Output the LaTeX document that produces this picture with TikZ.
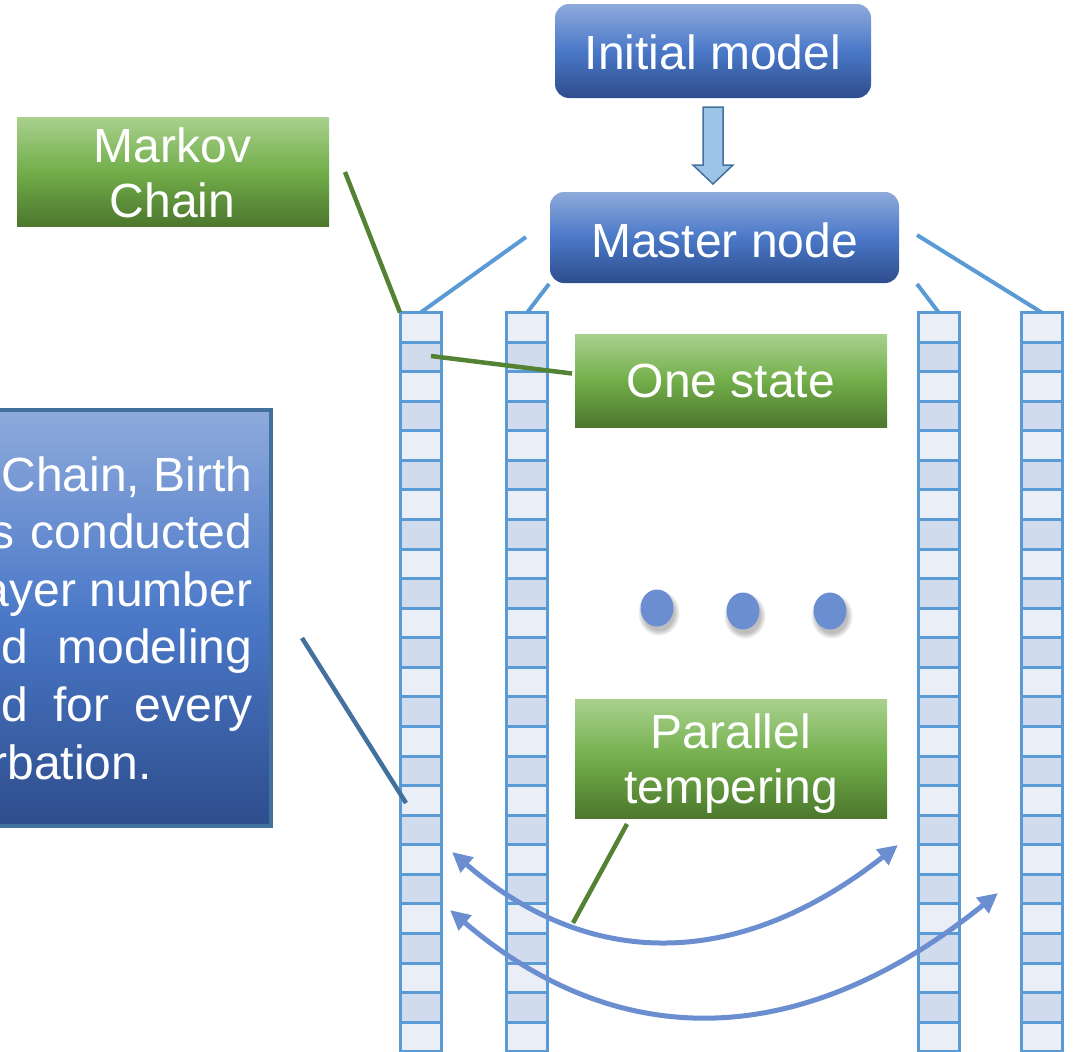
\documentclass[tikz,border=0pt]{standalone}
\usepackage{fontspec}
\setmainfont{Liberation Sans}
\usetikzlibrary{arrows.meta,calc}
\definecolor{cellline}{HTML}{5B9BD5}
\definecolor{celllight}{HTML}{E9EEF7}
\definecolor{celldark}{HTML}{D0DCEE}
\definecolor{bluetop}{HTML}{8EAADB}
\definecolor{bluemid}{HTML}{4A78C8}
\definecolor{bluebot}{HTML}{2E4D8C}
\definecolor{greentop}{HTML}{A9D18E}
\definecolor{greenmid}{HTML}{72AE4A}
\definecolor{greenbot}{HTML}{4C772D}
\definecolor{greenline}{HTML}{548235}
\definecolor{steel}{HTML}{41719C}
\definecolor{arcblue}{HTML}{6A8ED0}
\definecolor{arrowfill}{HTML}{9DC3E6}
\begin{document}
\begin{tikzpicture}[x=1pt,y=-1pt,
  bluebox/.style={rounded corners=14pt, top color=bluetop, bottom color=bluebot, middle color=bluemid, draw=none, inner sep=0pt},
  greenbox/.style={top color=greentop, bottom color=greenbot, middle color=greenmid, draw=none, inner sep=0pt},
  lbl/.style={text=white, font=\fontsize{48}{57.6}\selectfont, inner sep=0pt, anchor=base},
  colbox/.style={draw=none, inner sep=0pt, minimum width=41pt, minimum height=739pt, anchor=north west},
  feed/.style={draw=cellline, line width=4pt},
  gline/.style={draw=greenline, line width=4.5pt},
  sline/.style={draw=steel, line width=4.5pt},
  swap/.style={draw=arcblue, line width=5pt, {Triangle[length=20pt,width=19pt]}-{Triangle[length=20pt,width=19pt]}},
  dotshade/.style={fill=black, opacity=0.07}
]
\useasboundingbox (0,0) rectangle (1074,1052);
\clip (0,0) rectangle (1074,1052);

% columns of states
\foreach \c/\x in {c1/400,c2/506.5,c3/918,c4/1021}{
  \foreach \i in {0,2,...,24}{
    \fill[celllight] (\x,312.5+\i*29.57) rectangle ++(41,29.57);
  }
  \foreach \i in {1,3,...,25}{
    \fill[celldark] (\x,312.5+\i*29.57) rectangle ++(41,29.57);
  }
  \foreach \i in {0,...,25}{
    \draw[cellline, line width=3pt] (\x,312.5+\i*29.57) rectangle ++(41,29.57);
  }
  \node[colbox] (\c) at (\x,312.5) {};
}

% top boxes
\node[bluebox, minimum width=316pt, minimum height=94pt] (init) at (713,51) {};
\node[lbl] (initT) at (713,69) {Initial model};
\node[bluebox, minimum width=349pt, minimum height=91pt] (master) at (724.5,237.5) {};
\node[lbl] (masterT) at (724.5,257) {Master node};

% block arrow
\draw[fill=arrowfill, draw=steel, line width=1.5pt]
  (703,107) -- (723,107) -- (723,165) -- (733,165) -- (713,184) -- (693,165) -- (703,165) -- cycle;

% feed lines from master node to chains
\coordinate (m1) at (526,237);
\coordinate (m2) at (549,284);
\coordinate (m3) at (917,284);
\coordinate (m4) at (917,235);
\draw[feed] (m1) -- (c1.north);
\draw[feed] (m2) -- (c2.north);
\draw[feed] (m3) -- (c3.north);
\draw[feed] (m4) -- (c4.north);

% Markov chain label
\node[greenbox, minimum width=312pt, minimum height=109pt] (markov) at (173,171.5) {};
\node[lbl] (markovT1) at (172.5,162) {Markov};
\node[lbl] (markovT2) at (172.5,217) {Chain};
\coordinate (mk) at (345,172);
\draw[gline] (mk) -- (c1.north west);

% One state label
\node[greenbox, minimum width=312pt, minimum height=93pt] (state) at (731,380.5) {};
\node[lbl] (stateT) at (731,397) {One state};
\coordinate (st1) at (431,356);
\coordinate (st2) at (572,373.5);
\draw[gline] (st1) -- (st2);

% dots with soft shadows
\foreach \dx/\dy in {657/608,743/611,830/611}{
  \foreach \r in {0,1.5,3,4.5}{
    \fill[dotshade] (\dx+2,\dy+5) ellipse [x radius=16pt+\r pt, y radius=18pt+\r pt];
  }
  \fill[arcblue] (\dx,\dy) ellipse [x radius=16.5pt, y radius=18.5pt];
}

% Parallel tempering label
\node[greenbox, minimum width=312pt, minimum height=119pt] (pt) at (731,758.5) {};
\node[lbl] (ptT1) at (731,748) {Parallel};
\node[lbl] (ptT2) at (731,803) {tempering};

% swap arcs
\coordinate (a1l) at (452,852);
\coordinate (a1r) at (898,845);
\coordinate (a2l) at (450,910);
\coordinate (a2r) at (998,893);
\draw[swap] (a1l) .. controls (591.3,971.7) and (740,969.3) .. (a1r);
\draw[swap] (a2l) .. controls (620.7,1055.7) and (803.3,1050) .. (a2r);
\coordinate (pa) at (627,824);
\coordinate (pb) at (573,923);
\draw[gline] (pa) -- (pb);

% left description box
\node[draw=steel, line width=4pt, top color=bluetop, bottom color=bluebot, middle color=bluemid,
      minimum width=301pt, minimum height=416pt, inner sep=0pt] (desc) at (120.5,618) {};
\node[lbl, anchor=base east] (d1) at (252.5,491) {Chain, Birth};
\node[lbl, anchor=base east] (d2) at (252.5,548.6) {s\hspace{16.5pt}conducted};
\node[lbl, anchor=base east] (d3) at (252.5,606.2) {ayer number};
\node[lbl, anchor=base east] (d4) at (252.5,663.8) {d\hspace{29.5pt}modeling};
\node[lbl, anchor=base east] (d5) at (252.5,721.4) {d\hspace{25.4pt}for\hspace{25.4pt}every};
\node[lbl, anchor=base west] (d6) at (-8.8,779) {rbation.};
\coordinate (ds) at (302,638);
\coordinate (de) at (406,803);
\draw[sline] (ds) -- (de);
\end{tikzpicture}
\end{document}
